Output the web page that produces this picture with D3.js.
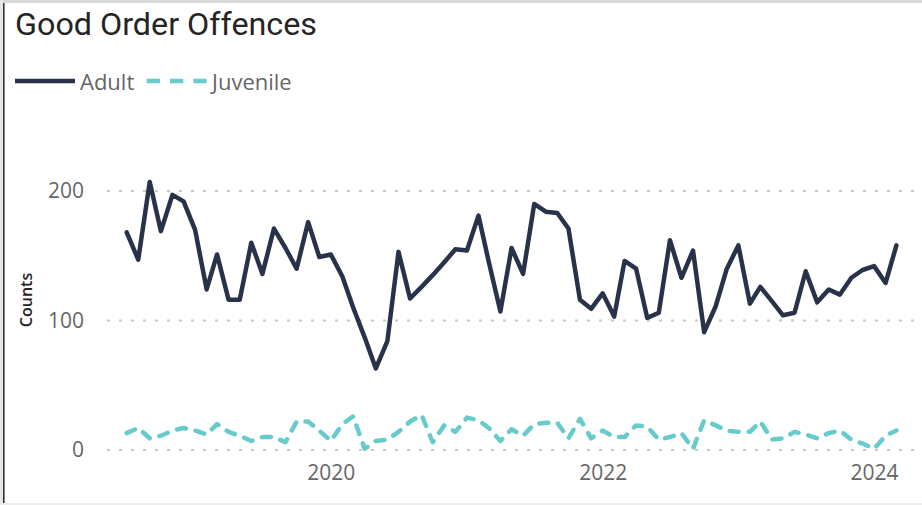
<!DOCTYPE html>
<html><head><meta charset="utf-8">
<script src="https://cdn.jsdelivr.net/npm/d3@7"></script>
<style>body{margin:0;background:#fff} svg{display:block}</style>
</head><body>
<svg id="c" width="922" height="505"></svg>
<script>
const months = [
"2018-07","2018-08","2018-09","2018-10","2018-11","2018-12",
"2019-01","2019-02","2019-03","2019-04","2019-05","2019-06","2019-07","2019-08","2019-09","2019-10","2019-11","2019-12",
"2020-01","2020-02","2020-03","2020-04","2020-05","2020-06","2020-07","2020-08","2020-09","2020-10","2020-11","2020-12",
"2021-01","2021-02","2021-03","2021-04","2021-05","2021-06","2021-07","2021-08","2021-09","2021-10","2021-11","2021-12",
"2022-01","2022-02","2022-03","2022-04","2022-05","2022-06","2022-07","2022-08","2022-09","2022-10","2022-11","2022-12",
"2023-01","2023-02","2023-03","2023-04","2023-05","2023-06","2023-07","2023-08","2023-09","2023-10","2023-11","2023-12",
"2024-01","2024-02","2024-03"];
const adult = [168,147,207,169,197,192,170,124,151,116,116,160,136,171,156,140,176,149,151,134,
110,87,63,84,153,117,126,135,145,155,154,181,145,107,156,136,190,184,183,171,
116,109,121,103,146,140,102,106,162,133,154,91,111,140,158,113,126,115,104,106,
138,114,124,120,133,139,142,129,158];
const juvenile = [13,17,9,11,15,17,15,12,20,14,11,7,10,10,6,22,22,15,7,20,
26,1,7,8,14,22,27,6,19,14,25,23,17,7,16,11,20,21,21,9,
24,9,15,10,10,19,18,8,10,13,1,23,19,15,14,14,22,8,9,14,
12,9,13,15,8,5,1,11,15];
const yTicks = [0,100,200];
const xTickLabels = ["2020","2022","2024"];
const seriesNames = ["Adult","Juvenile"];
const colors = ["#283349","#66cbca"];

const svg = d3.select("#c");
const parseM = d3.utcParse("%Y-%m");
const parseY = d3.utcParse("%Y");
const dates = months.map(parseM);

const x = d3.scaleUtc().domain([dates[0], dates[dates.length-1]]).range([126.7, 896.4]);
const y = d3.scaleLinear().domain([0,200]).range([450,191]);

// frame
svg.append("rect").attr("x",0).attr("y",0).attr("width",922).attr("height",505).attr("fill","#fff");
svg.append("rect").attr("x",0).attr("y",0).attr("width",922).attr("height",3).attr("fill","#d9d9d9");
svg.append("rect").attr("x",0).attr("y",0).attr("width",3).attr("height",505).attr("fill","#e6e6e6");
svg.append("rect").attr("x",3).attr("y",3).attr("width",1.6).attr("height",502).attr("fill","#333");
svg.append("rect").attr("x",0).attr("y",503).attr("width",922).attr("height",2).attr("fill","#ececec");

// title
svg.append("text").attr("x",15).attr("y",35)
  .attr("font-family","Roboto, 'DejaVu Sans', sans-serif").attr("font-size",31).attr("font-weight",400)
  .attr("fill","#252423").attr("textLength",302).attr("lengthAdjust","spacingAndGlyphs")
  .text("Good Order Offences");

// legend
const lg = svg.append("g");
lg.append("line").attr("x1",15).attr("x2",75).attr("y1",81).attr("y2",81)
  .attr("stroke",colors[0]).attr("stroke-width",4.5);
lg.append("text").attr("x",80).attr("y",90).attr("font-family","'Open Sans', sans-serif")
  .attr("font-size",22).attr("fill","#666666").text(seriesNames[0]);
lg.append("line").attr("x1",146.7).attr("x2",208.3).attr("y1",81).attr("y2",81)
  .attr("stroke",colors[1]).attr("stroke-width",4.5).attr("stroke-dasharray","13.3,10");
lg.append("text").attr("x",212).attr("y",90).attr("font-family","'Open Sans', sans-serif")
  .attr("font-size",22).attr("fill","#666666").text(seriesNames[1]);

// gridlines
svg.append("g").selectAll("line").data(yTicks).join("line")
  .attr("x1",107).attr("x2",914).attr("y1",d=>y(d)).attr("y2",d=>y(d))
  .attr("stroke","#c8c8c8").attr("stroke-width",2).attr("stroke-dasharray","3,9");

// y axis
const ya = svg.append("g").attr("transform","translate(88,0)")
  .call(d3.axisLeft(y).tickValues(yTicks).tickSize(0).tickPadding(4));
ya.select(".domain").remove();
ya.selectAll("text").attr("font-family","'Open Sans', sans-serif").attr("font-size",21).attr("fill","#666666");

// x axis
const xa = svg.append("g").attr("transform","translate(0,455)")
  .call(d3.axisBottom(x).tickValues(xTickLabels.map(parseY)).tickFormat(d3.utcFormat("%Y")).tickSize(0).tickPadding(10));
xa.select(".domain").remove();
xa.selectAll("text").attr("font-family","'Open Sans', sans-serif").attr("font-size",21).attr("fill","#666666");

// y axis title
svg.append("text").attr("transform","translate(32,300) rotate(-90)").attr("text-anchor","middle")
  .attr("font-family","'Open Sans', sans-serif").attr("font-size",16).attr("font-weight",600).attr("fill","#252423").text("Counts");

// lines
const line = d3.line().x((d,i)=>x(dates[i])).y(d=>y(d));
svg.append("path").datum(adult).attr("d",line).attr("fill","none")
  .attr("stroke",colors[0]).attr("stroke-width",4.5).attr("stroke-linejoin","round").attr("stroke-linecap","round");
svg.append("path").datum(juvenile).attr("d",line).attr("fill","none")
  .attr("stroke",colors[1]).attr("stroke-width",4.5).attr("stroke-linejoin","round").attr("stroke-linecap","round")
  .attr("stroke-dasharray","9,10");
</script>
</body></html>
